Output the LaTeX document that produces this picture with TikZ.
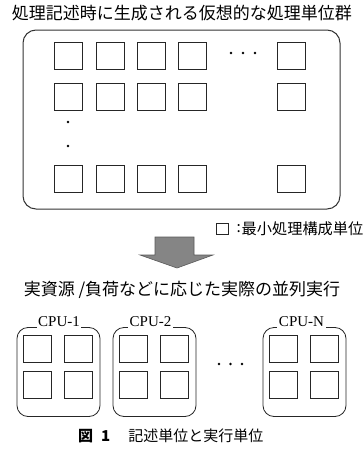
\documentclass[tikz,border=0pt]{standalone}
\usepackage{fontspec}
\setmainfont{Liberation Serif}
\newfontfamily\jp{Noto Sans CJK JP}
\begin{document}
\begin{tikzpicture}[x=1pt,y=1pt,
  unit/.style={draw=black!85,line width=0.8pt},
  bigbox/.style={draw=black!80,line width=1pt,rounded corners=13pt},
  cpubox/.style={draw=black!85,line width=0.8pt,rounded corners=11pt},
  dot/.style={fill=black,circle,inner sep=0pt,minimum size=2.8pt},
  jptext/.style={font=\jp\fontsize{17}{19}\selectfont,inner sep=0pt},
  cpulabel/.style={font=\fontsize{15}{16}\selectfont,fill=white,inner xsep=1.5pt,inner ysep=2pt,anchor=base},
  bigarrow/.style={fill=black!48,draw=black!65,line width=0.6pt}
]
\useasboundingbox (0,0) rectangle (364,-450);

% title
\node[jptext] (title) at (182,-13) {処理記述時に生成される仮想的な処理単位群};

% big box
\draw[bigbox] (23,-30) rectangle (340,-209);
\node (bigbox) at (181.5,-119.5) {};

% unit squares
\foreach \r/\y in {1/42,2/83,3/165}{
  \foreach \c/\x in {1/54,2/96,3/137,4/178,5/277}{
    \draw[unit] (\x,-\y) rectangle ++(28,-27);
  }
}
% horizontal dots
\foreach \i/\x in {1/231,2/243,3/255}{
  \node[dot] (hd\i) at (\x,-53) {};
}
% vertical dots
\node[dot] (vd1) at (68,-122) {};
\node[dot] (vd2) at (68,-146) {};

% legend
\draw[unit] (216,-223) rectangle (228,-234);
\node[jptext,font=\jp\fontsize{15.2}{17}\selectfont,anchor=east] (legend) at (363.5,-228.5) {最小処理構成単位};
\node[jptext,font=\jp\fontsize{15.2}{17}\selectfont,anchor=east] (colon) at ([xshift=-0.5pt]legend.west) {:};

% big arrow
\draw[bigarrow] (155,-237) -- (194,-237) -- (194,-255) -- (213,-255)
  -- (177,-268) -- (140,-255) -- (155,-255) -- cycle;

% second heading
\node[jptext] (heading) at (182,-290) {実資源 /負荷などに応じた実際の並列実行};

% CPU boxes
\foreach \n/\bx/\lx/\lab in {1/17/59/CPU-1,2/113/150.5/CPU-2,3/263/301.5/CPU-N}{
  \draw[cpubox] (\bx,-327.5) rectangle ++(83,-89);
  \foreach \dx in {6,47}{
    \foreach \dy in {335,371}{
      \draw[unit] (\bx+\dx,-\dy) rectangle ++(28,-27.5);
    }
  }
  \node[cpulabel] (cpu\n) at (\lx,-326.5) {\lab};
}
% dots between CPUs
\foreach \i/\x in {1/219,2/230.5,3/242}{
  \node[dot] (cd\i) at (\x,-364) {};
}

% caption
\node[jptext,font=\jp\fontsize{15}{17}\selectfont,anchor=west] (caption) at (78,-436)
  {{\bfseries 図\hspace{8pt}1}\hspace{18pt}記述単位と実行単位};
\end{tikzpicture}
\end{document}
